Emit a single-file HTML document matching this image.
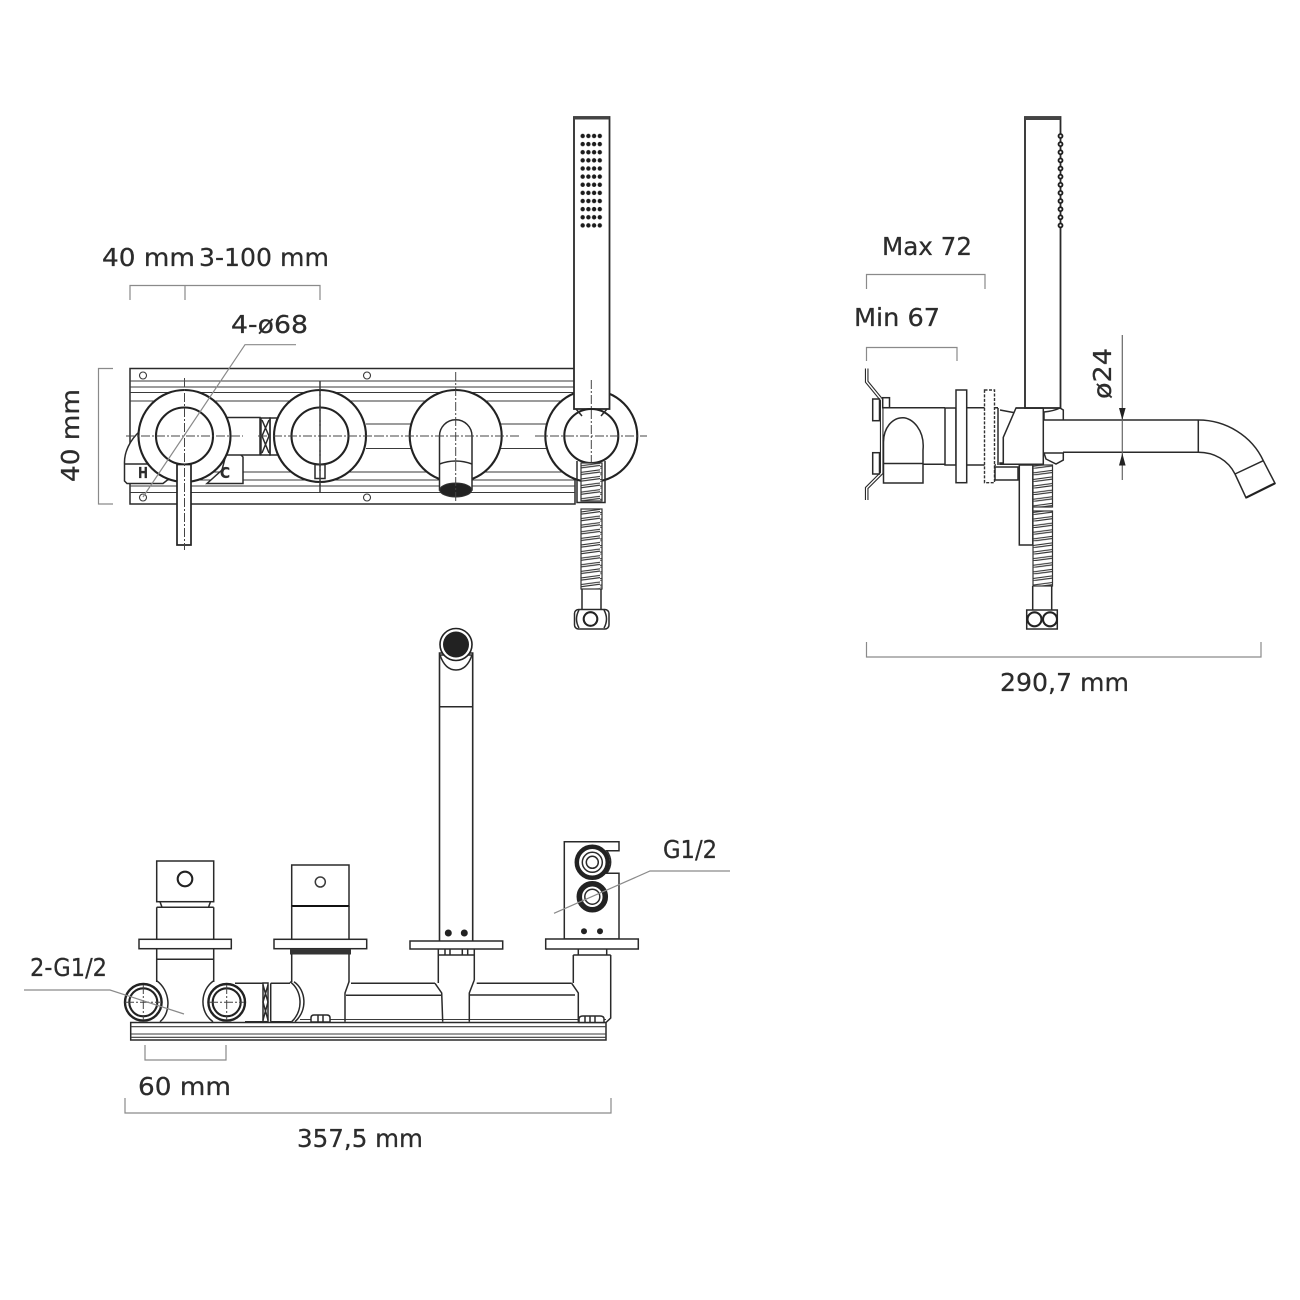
<!DOCTYPE html>
<html><head><meta charset="utf-8"><style>
html,body{margin:0;padding:0;background:#fff}
svg{display:block}
text{font-family:"DejaVu Sans","Liberation Sans",sans-serif;font-size:24.5px;fill:#2c2c2c;stroke:#2c2c2c;stroke-width:.25;text-anchor:start}
.k{fill:none;stroke:#2a2a2a;stroke-width:1.5}
.w{fill:#fff;stroke:#2a2a2a;stroke-width:1.5}
.t{fill:#fff;stroke:#222;stroke-width:2.1}
.thin{fill:none;stroke:#3a3a3a;stroke-width:1.1}
.d{fill:none;stroke:#8a8a8a;stroke-width:1.2}
.c{fill:none;stroke:#444;stroke-width:1;stroke-dasharray:9 2 2 2}
.b{fill:#222}
</style></head><body>
<svg width="1300" height="1300" viewBox="0 0 1300 1300" xmlns="http://www.w3.org/2000/svg">
<defs>
<pattern id="coil" width="24" height="6.6" patternUnits="userSpaceOnUse">
<rect width="24" height="6.6" fill="#fff"/>
<path d="M0 4.4L24 1.2M0 6.6L24 3.4" stroke="#333" stroke-width="1.1" fill="none"/>
</pattern>
<pattern id="dotsF" x="579.85" y="131.95" width="5.7" height="8.13" patternUnits="userSpaceOnUse">
<circle cx="2.85" cy="4.05" r="2.2" fill="#1c1c1c"/>
</pattern>
<pattern id="dotsS" x="1057" y="131.95" width="7" height="8.13" patternUnits="userSpaceOnUse">
<circle cx="3.5" cy="4.05" r="2" fill="#fff" stroke="#1c1c1c" stroke-width="1.8"/>
</pattern>
</defs>
<rect width="1300" height="1300" fill="#fff"/>

<!-- labels -->
<text x="102" y="266" textLength="93" lengthAdjust="spacingAndGlyphs">40 mm</text>
<text x="199" y="266" textLength="130" lengthAdjust="spacingAndGlyphs">3-100 mm</text>
<text x="231" y="333" textLength="77" lengthAdjust="spacingAndGlyphs">4-ø68</text>
<text transform="translate(79,482) rotate(-90)" textLength="93" lengthAdjust="spacingAndGlyphs">40 mm</text>
<text x="882" y="255" textLength="90" lengthAdjust="spacingAndGlyphs">Max 72</text>
<text x="854" y="326" textLength="86" lengthAdjust="spacingAndGlyphs">Min 67</text>
<text x="1000" y="691" textLength="129" lengthAdjust="spacingAndGlyphs">290,7 mm</text>
<text transform="translate(1111,399) rotate(-90)" textLength="51" lengthAdjust="spacingAndGlyphs">ø24</text>
<text x="663" y="858" textLength="54" lengthAdjust="spacingAndGlyphs">G1/2</text>
<text x="30" y="976" textLength="77" lengthAdjust="spacingAndGlyphs">2-G1/2</text>
<text x="138" y="1095" textLength="93" lengthAdjust="spacingAndGlyphs">60 mm</text>
<text x="297" y="1147" textLength="126" lengthAdjust="spacingAndGlyphs">357,5 mm</text>

<!-- dimension brackets -->
<path class="d" d="M130 300V285.500H320V300M185 285.500V300"/>
<path class="d" d="M113 368.500H98.500V504H113"/>
<path class="d" d="M866.500 289V274.500H985V289"/>
<path class="d" d="M866.500 361V347.500H957V361"/>
<path class="d" d="M866.500 642V657H1261V642"/>
<path class="d" d="M145 1045V1060H226V1045"/>
<path class="d" d="M125 1098V1113H611V1098"/>

<!-- ===== FRONT VIEW ===== -->
<rect class="k" x="130" y="368.500" width="445" height="135.500"/>
<path class="thin" d="M130 381H575M130 387H575M130 392.500H575M130 401H575M130 472H575M130 480H575M130 486H575M130 492.500H575M366 424H575M366 448.500H575"/>
<g class="thin">
<circle cx="143" cy="375.500" r="3.500" fill="#fff"/><circle cx="367" cy="375.500" r="3.500" fill="#fff"/>
<circle cx="143" cy="497.500" r="3.500" fill="#fff"/><circle cx="367" cy="497.500" r="3.500" fill="#fff"/>
</g>
<!-- H / C blocks -->
<path class="w" d="M140 431C130 440 124 452 124.500 464V481L127 483.500H163L170 478L150 450Z"/>
<path class="k" d="M124.500 464H150"/>
<path class="w" d="M229 443L243 457V483.500H207L222 470Z"/>
<text x="138" y="478" style="font-size:15px;font-weight:bold" textLength="10" lengthAdjust="spacingAndGlyphs">H</text>
<text x="220" y="478" style="font-size:15px;font-weight:bold" textLength="10" lengthAdjust="spacingAndGlyphs">C</text>
<!-- connector between valves -->
<rect class="w" x="226" y="417.500" width="34" height="37.500"/>
<rect class="k" x="261" y="418" width="9" height="37"/>
<path class="k" d="M262 420L269 436L262 453M269 420L262 436L269 453"/>
<rect class="k" x="270" y="418" width="8" height="37"/>
<circle class="t" cx="184.500" cy="436" r="46"/>
<circle class="t" cx="184.500" cy="436" r="28.500"/>
<circle class="t" cx="320" cy="436" r="46"/>
<circle class="t" cx="320" cy="436" r="28.500"/>
<rect class="k" x="315" y="464.500" width="10" height="14"/>
<path class="k" d="M320 381V492.500"/>
<circle class="t" cx="455.700" cy="436" r="46"/>
<circle class="t" cx="591.300" cy="436" r="46"/>
<!-- lever -->
<rect class="t" x="177" y="464.500" width="14" height="80.500" style="stroke-width:1.700"/>
<!-- spout -->
<path class="w" d="M439.500 490V436A16.200 16.200 0 0 1 472 436V490Z"/>
<path class="k" d="M439.500 464Q455.700 458 472 464"/>
<ellipse cx="455.700" cy="490" rx="16" ry="7" fill="#222" stroke="#333"/>
<!-- hand shower front -->
<rect class="w" x="574" y="117" width="35.500" height="292" style="stroke-width:1.800"/>
<rect x="574" y="116.500" width="35.500" height="3" fill="#444"/>
<rect x="579.85" y="131.95" width="22.8" height="97.56" fill="url(#dotsF)"/>
<circle class="t" cx="591.300" cy="436" r="27"/>
<path class="k" d="M576 409L582 416M607 409L601 416"/>
<path class="k" d="M577 461V502.500H605V461"/>
<rect x="581" y="463" width="21" height="38" fill="url(#coil)" stroke="#333" stroke-width="1.200"/>
<rect x="581" y="509" width="21" height="80" fill="url(#coil)" stroke="#333" stroke-width="1.200"/>
<path class="k" d="M582 589V610M601 589V610"/>
<rect class="w" x="574.500" y="609.500" width="34.500" height="19.500" rx="4"/>
<circle class="t" cx="590.500" cy="619" r="6.800"/>
<path class="k" d="M579 610Q574 619 579 628M604 610Q609 619 604 628"/>
<!-- centre lines -->
<path class="c" d="M126 436H243M184.500 378V550M258 436H375M320 381V492M375 436H521M455.700 372V502M535 436H647M591.300 380V462"/>
<path class="d" d="M296 344.700H245L143 497"/>

<!-- ===== SIDE VIEW ===== -->
<path d="M866.700 368.500V381.700L881.700 400V473L866.700 488V500" fill="none" stroke="#2a2a2a" stroke-width="3.600"/>
<path d="M866.700 368.500V381.700L881.700 400V473L866.700 488V500" fill="none" stroke="#fff" stroke-width="1.400"/>
<rect class="w" x="872.700" y="399" width="6.800" height="21.700"/>
<rect class="w" x="872.700" y="452.700" width="6.800" height="21.300"/>
<rect class="w" x="882.700" y="397.700" width="6.800" height="10"/>
<path class="k" d="M883 407.700H945M883 464.300H945"/>
<path class="w" d="M883.500 483H923V450C925 430 912 417.700 903 417.700C892 417.700 883.500 428 883.500 442Z"/>
<path class="k" d="M883.500 463.500H923"/>
<rect class="w" x="945" y="408" width="11" height="57"/>
<rect class="w" x="956" y="390" width="10.700" height="92.700"/>
<path class="k" d="M966.700 407.700H998M966.700 465H996"/>
<rect x="984.500" y="390" width="10" height="92.700" fill="#fff" stroke="#333" stroke-width="1.400" stroke-dasharray="3 1.500"/>
<path class="k" d="M998 408V465"/>
<path class="w" d="M995 467H1018V480H995Z"/>
<path class="k" d="M1000 410L1016 413M1003.300 437.300V463"/>
<path class="w" d="M1016 408H1043.300V464.300H1000V463H1003.300V437.300Z"/>
<path class="w" d="M1044 420V412Q1054 411 1060 408L1063.300 410V420Z"/>
<path class="w" d="M1044 453H1063.300V460L1056 464L1046 459Z"/>
<!-- spout side -->
<path class="w" d="M1063 420H1198.300C1226 420 1252 436 1263.300 460.700L1275 483.300L1246 497.700L1235 474C1228 460 1214 452.300 1198.300 452.300H1063"/>
<path class="k" d="M1198.300 420V452.300M1263.300 460.700L1235 474"/>
<path d="M1275 483.300L1246 497.700" stroke="#222" stroke-width="2.200" fill="none"/>
<!-- shower side -->
<rect class="w" x="1025" y="117" width="35.500" height="291" style="stroke-width:1.800"/>
<rect x="1025" y="116.500" width="35.500" height="3.500" fill="#444"/>
<rect x="1057" y="131.950" width="7" height="97.560" fill="url(#dotsS)"/>
<path class="k" d="M1016 408H1043.300"/>
<rect class="w" x="1019.300" y="465" width="13.500" height="80"/>
<rect x="1033" y="465" width="19.500" height="42" fill="url(#coil)" stroke="#333" stroke-width="1.200"/>
<rect x="1033" y="511" width="19.500" height="75" fill="url(#coil)" stroke="#333" stroke-width="1.200"/>
<path class="k" d="M1032.700 586V610M1051.700 586V610"/>
<rect class="w" x="1026.700" y="610" width="30.600" height="19"/>
<circle class="t" cx="1034.500" cy="619.300" r="7"/>
<circle class="t" cx="1050" cy="619.300" r="7"/>
<!-- Ø24 dim -->
<path class="d" d="M1122.300 335V480" style="stroke:#666"/>
<path class="b" d="M1122.300 420L1119 408H1125.600ZM1122.300 453.300L1119 465.500H1125.600Z"/>

<!-- ===== BOTTOM VIEW ===== -->
<!-- spout -->
<path class="w" d="M439.500 941V653H472.700V941" style="stroke-width:1.600"/>
<path class="k" d="M439.500 706.700H472.700"/>
<path class="w" d="M440 655Q445 670 456 670Q467 670 472 655Z"/>
<circle cx="456" cy="644.500" r="16" fill="#fff" stroke="#222" stroke-width="1.600"/>
<circle cx="456" cy="644.500" r="13" fill="#222"/>
<circle class="b" cx="448.300" cy="933" r="3.500"/><circle class="b" cx="464.300" cy="933" r="3.500"/>
<!-- base plate -->
<path class="k" d="M130.700 1022.500H606V1040H130.700Z"/>
<path class="thin" d="M130.700 1026.700H606M130.700 1034H606M130.700 1037.300H606M300 1019.500H606"/>
<!-- handle 1 -->
<rect class="w" x="156.700" y="861" width="57" height="40.700"/>
<circle class="t" cx="185" cy="879" r="7.300"/>
<path class="k" d="M160 901.700L162 907.300H208.500L210.500 901.700"/>
<path class="k" d="M156.700 907.300H213.700M156.700 907.300V939.300M213.700 907.300V939.300"/>
<rect class="w" x="139" y="939.300" width="92.300" height="9.400"/>
<path class="k" d="M156.700 948.700V982M213.700 948.700V982M156.700 959.300H213.700"/>
<path class="k" d="M156.700 980.700C170 990 172 1012 160 1021.700M213.700 980.700C200 990 199 1012 213 1021.700"/>
<circle class="t" cx="143.300" cy="1002.300" r="18.300" style="stroke-width:2.400"/>
<circle class="t" cx="143.300" cy="1002.300" r="14"/>
<circle class="t" cx="226.700" cy="1002.300" r="18.300" style="stroke-width:2.400"/>
<circle class="t" cx="226.700" cy="1002.300" r="14"/>
<path class="c" d="M125 1002.300H160M143.300 985V1020M209 1002.300H244M226.700 985V1020"/>
<path class="k" d="M235 983.300H263M245 1021.700H263"/>
<rect class="k" x="263" y="983" width="5" height="38.700"/>
<path class="k" d="M263 985L268 1002L263 1020M268 985L263 1002L268 1020"/>
<path class="k" d="M270.700 983.300H290M270.700 1021.700H291.700M270.700 983.300V1021.700"/>
<path class="k" d="M290 981.700C302 990 304 1010 291.700 1021.700M294 981.700C306 990 308 1010 295 1021.700"/>
<!-- handle 2 -->
<rect class="w" x="291.700" y="865" width="57.300" height="41"/>
<circle class="thin" cx="320.300" cy="882" r="5" style="stroke-width:1.500"/>
<path d="M291.700 906H349" stroke="#111" stroke-width="2" fill="none"/>
<path class="k" d="M291.700 906V939.300M349 906V939.300"/>
<rect class="w" x="274" y="939.300" width="92.700" height="9.400"/>
<rect x="290" y="949.500" width="61" height="5" fill="#333"/>
<path class="k" d="M291.700 954V982M349 954V982"/>
<path class="k" d="M349 981.700L345 993V1021.700M351 983.300H435M346 995.300H441"/>
<path class="k" d="M435 983.300L441.700 993L442.700 1021.700"/>
<path class="w" d="M311 1022V1018Q311 1015 314 1015H327Q330 1015 330 1018V1022Z"/>
<path class="k" d="M318 1015V1022M323 1015V1022"/>
<!-- spout base -->
<rect class="w" x="410" y="941" width="92.700" height="8"/>
<path class="k" d="M438.300 949V983M474.300 949V980M438.300 955H474.300M445 949V955M450 949V955M462.300 949V955M467.700 949V955"/>
<path class="k" d="M474.300 980L469.300 993V1021.700M476.700 983.300H571.700M470 995H575"/>
<path class="k" d="M571.700 983.300L578.300 993V1021.700"/>
<!-- right block -->
<path class="w" d="M564.300 939V841.700H619V850.700H606.700C612 858 612 866 606.700 873.300H619V939Z"/>
<circle cx="592.300" cy="862.300" r="15.500" fill="#fff" stroke="#222" stroke-width="4.500"/>
<circle class="k" cx="592.300" cy="862.300" r="10"/>
<circle class="k" cx="592.300" cy="862.300" r="6"/>
<circle cx="592.300" cy="896.700" r="13" fill="#fff" stroke="#222" stroke-width="5.500"/>
<circle class="k" cx="592.300" cy="896.700" r="7.500"/>
<circle class="b" cx="584" cy="931.300" r="3"/><circle class="b" cx="600" cy="931.300" r="3"/>
<rect class="w" x="545.700" y="939" width="92.600" height="10"/>
<path class="k" d="M578.300 949V955M606.700 949V955M573.300 955H610.700M573.300 955V983M610.700 955V1018L606 1022.500"/>
<path class="w" d="M579 1022.500V1019Q579 1016 583 1016H600Q604 1016 604 1019V1022.500Z"/>
<path class="k" d="M585 1016V1022M590 1016V1022M595 1016V1022"/>
<!-- leaders -->
<path class="d" d="M730 871H650L554 913.300"/>
<path class="d" d="M24 990H110L184 1014"/>
</svg>
</body></html>
